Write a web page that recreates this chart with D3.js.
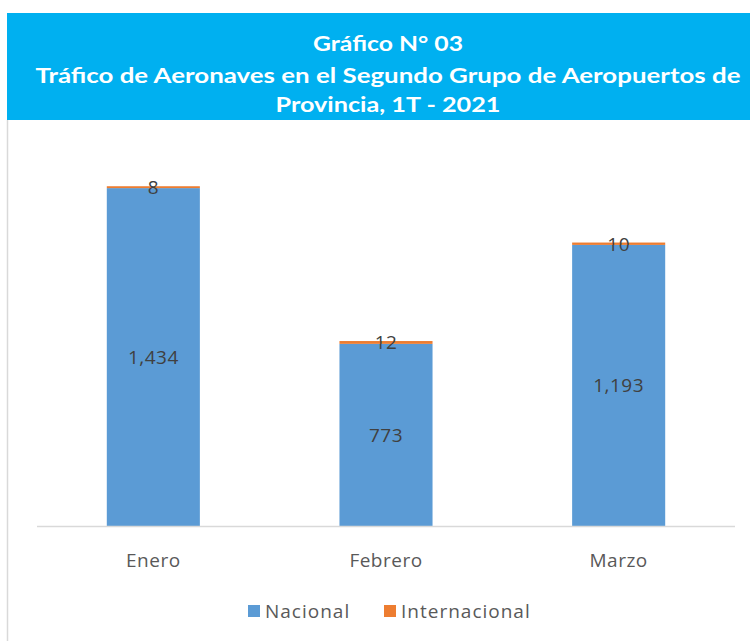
<!DOCTYPE html>
<html lang="es">
<head>
<meta charset="UTF-8">
<title>Gráfico N° 03</title>
<script src="https://cdn.jsdelivr.net/npm/d3@7"></script>
<style>
  body { margin: 0; background: #fff; }
  text { font-family: "Open Sans", Lato, sans-serif; }
</style>
</head>
<body>
<svg width="750" height="641" id="chart"></svg>
<script>
    // datos
    const meses = ["Enero", "Febrero", "Marzo"];
    const nacional = [1434, 773, 1193];
    const internacional = [8, 12, 10];
    const series = ["Nacional", "Internacional"];
    const colores = ["#5B9BD5", "#ED7D31"];
    const titulo = ["Gráfico N° 03",
        "Tráfico de Aeronaves en el Segundo Grupo de Aeropuertos de",
        "Provincia, 1T - 2021"];

    const svg = d3.select("#chart");

    // cabecera
    svg.append("rect").attr("x", 7).attr("y", 13).attr("width", 743).attr("height", 107).attr("fill", "#00B0F0");
    svg.append("line").attr("x1", 7.5).attr("x2", 7.5).attr("y1", 120).attr("y2", 641)
        .attr("stroke", "#d9d9d9").attr("stroke-width", 1.5);

    const tY = [42, 74, 103];
    const tW = [150, 705, 225];
    titulo.forEach((t, i) => {
        svg.append("text")
            .attr("x", 388).attr("y", tY[i])
            .attr("text-anchor", "middle").attr("dominant-baseline", "central")
            .attr("textLength", tW[i]).attr("lengthAdjust", "spacingAndGlyphs")
            .attr("fill", "#fff").style("font-weight", "bold").style("font-size", "21px")
            .style("font-family", "Lato, sans-serif")
            .text(t);
    });

    const x = d3.scaleBand().domain(meses).range([37, 735]).paddingInner(0.6).paddingOuter(0.3);
    const y = d3.scaleLinear().domain([0, 1600]).range([526, 149]);

    const datos = meses.map((m, i) => ({ mes: m, Nacional: nacional[i], Internacional: internacional[i] }));
    const stack = d3.stack().keys(series)(datos);

    const g = svg.append("g");
    stack.forEach((s, k) => {
        g.selectAll(".b" + k).data(s).enter().append("rect")
            .attr("x", d => x(d.data.mes))
            .attr("width", x.bandwidth())
            .attr("y", d => y(d[1]))
            .attr("height", d => y(d[0]) - y(d[1]))
            .attr("fill", colores[k]);
    });

    // etiquetas
    stack.forEach((s, k) => {
        g.selectAll(".l" + k).data(s).enter().append("text")
            .attr("x", d => x(d.data.mes) + x.bandwidth() / 2)
            .attr("y", d => (y(d[0]) + y(d[1])) / 2)
            .attr("text-anchor", "middle").attr("dominant-baseline", "central")
            .attr("fill", "#404040").style("font-size", "19px").style("letter-spacing", "0.5px")
            .text(d => d3.format(",")(d[1] - d[0]));
    });

    // eje
    svg.append("line").attr("x1", 37).attr("x2", 735).attr("y1", 526.5).attr("y2", 526.5)
        .attr("stroke", "#d9d9d9").attr("stroke-width", 1.5);
    meses.forEach(m => {
        svg.append("text")
            .attr("x", x(m) + x.bandwidth() / 2).attr("y", 560)
            .attr("text-anchor", "middle").attr("dominant-baseline", "central")
            .attr("fill", "#595959").style("font-size", "19px").style("letter-spacing", "0.5px")
            .text(m);
    });

    // leyenda
    const lx = [248, 384];
    series.forEach((s, i) => {
        svg.append("rect").attr("x", lx[i]).attr("y", 605).attr("width", 12).attr("height", 12).attr("fill", colores[i]);
        svg.append("text").attr("x", lx[i] + 17).attr("y", 611)
            .attr("dominant-baseline", "central").attr("fill", "#595959").style("font-size", "19px")
            .style("letter-spacing", "1px")
            .text(s);
    });
</script>
</body>
</html>
